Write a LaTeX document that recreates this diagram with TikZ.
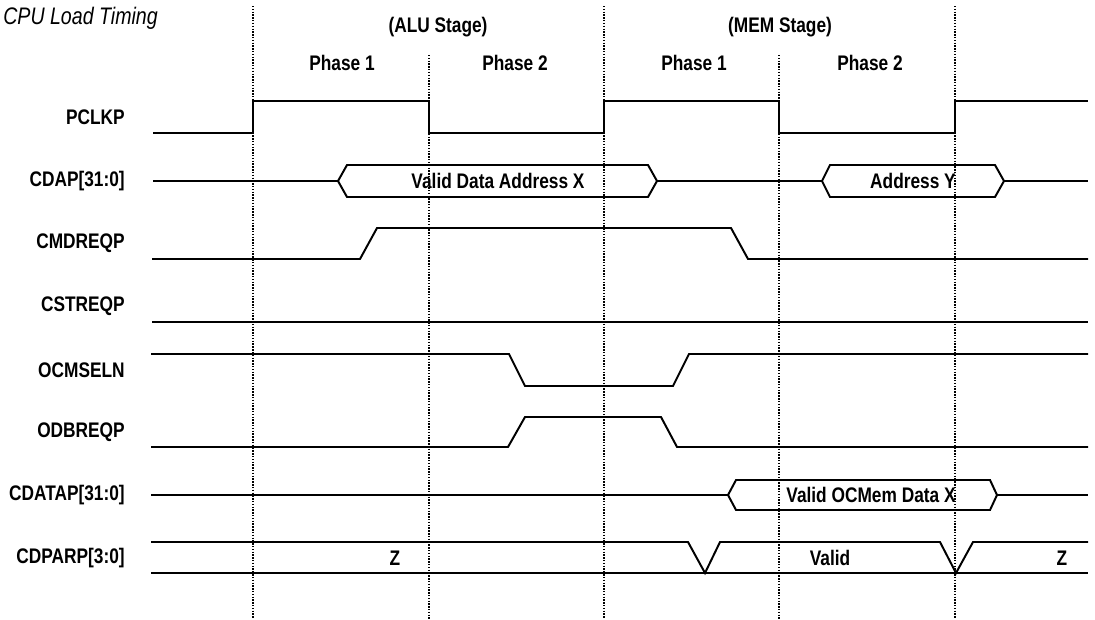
\documentclass[tikz,border=0pt]{standalone}
\usepackage{fontspec}
\setmainfont{Liberation Sans}[FakeStretch=0.82]
\usepackage{tikz}
\usetikzlibrary{positioning}
\tikzstyle{sigline} = [draw, line width=1.4pt, line join=miter]
\tikzstyle{phaseline} = [draw, line width=0.9pt, dash pattern=on 1pt off 1pt]
\tikzstyle{signame} = [anchor=east, inner sep=0pt, font=\fontsize{15}{17}\selectfont\bfseries]
\tikzstyle{headtext} = [inner sep=0pt, font=\fontsize{15}{17}\selectfont\bfseries]
\tikzstyle{titletext} = [anchor=west, inner sep=0pt, font=\fontsize{17}{19}\selectfont\itshape]

\begin{document}
\begin{tikzpicture}[x=0.025cm, y=-0.025cm]
  \useasboundingbox (0,0) rectangle (1095,619);

  % Place nodes
  \node [titletext] (cpuload) at (3,18) {CPU Load Timing};
  \node [headtext] (alu) at (438,27) {(ALU Stage)};
  \node [headtext] (mem) at (780,27) {(MEM Stage)};
  \node [headtext] (ph1a) at (342,63) {Phase 1};
  \node [headtext] (ph2a) at (515,63) {Phase 2};
  \node [headtext] (ph1b) at (694,63) {Phase 1};
  \node [headtext] (ph2b) at (870,63) {Phase 2};

  \node [signame] (pclkp) at (125,117) {PCLKP};
  \node [signame] (cdap) at (125,181) {CDAP[31:0]};
  \node [signame] (cmdreqp) at (125,243) {CMDREQP};
  \node [signame] (cstreqp) at (125,306) {CSTREQP};
  \node [signame] (ocmseln) at (125,370) {OCMSELN};
  \node [signame] (odbreqp) at (125,432) {ODBREQP};
  \node [signame] (cdatap) at (125,495) {CDATAP[31:0]};
  \node [signame] (cdparp) at (125,558) {CDPARP[3:0]};

  % stage and phase boundaries
  \path [phaseline] (253,6) -- (253,619);
  \path [phaseline] (429,55) -- (429,619);
  \path [phaseline] (604,6) -- (604,619);
  \path [phaseline] (779,55) -- (779,619);
  \path [phaseline] (955,6) -- (955,619);

  % PCLKP
  \path [sigline] (153,133) -- (253,133) -- (253,101) -- (429,101) -- (429,133)
    -- (604,133) -- (604,101) -- (779,101) -- (779,133) -- (955,133)
    -- (955,101) -- (1088,101);

  % CDAP[31:0]
  \path [sigline] (153,181) -- (338,181);
  \path [sigline] (338,181) -- (347,165) -- (648,165) -- (657,181) -- (648,197)
    -- (347,197) -- cycle;
  \node [headtext] (addrx) at (498,181) {Valid Data Address X};
  \path [sigline] (657,181) -- (822,181);
  \path [sigline] (822,181) -- (830,165) -- (995,165) -- (1004,181) -- (995,197)
    -- (830,197) -- cycle;
  \node [headtext] (addry) at (913,181) {Address Y};
  \path [sigline] (1004,181) -- (1088,181);

  % CMDREQP
  \path [sigline] (152,259) -- (360,259) -- (377,228) -- (731,228) -- (748,259)
    -- (1088,259);

  % CSTREQP
  \path [sigline] (152,322) -- (1088,322);

  % OCMSELN
  \path [sigline] (151,354) -- (509,354) -- (525,386) -- (673,386) -- (689,354)
    -- (1088,354);

  % ODBREQP
  \path [sigline] (151,447) -- (508,447) -- (525,417) -- (661,417) -- (677,447)
    -- (1088,447);

  % CDATAP[31:0]
  \path [sigline] (151,495) -- (728,495);
  \path [sigline] (728,495) -- (736,480) -- (990,480) -- (997,495) -- (990,510)
    -- (736,510) -- cycle;
  \node [headtext] (datax) at (871,495) {Valid OCMem Data X};
  \path [sigline] (997,495) -- (1088,495);

  % CDPARP[3:0]
  \path [sigline] (151,542) -- (688,542) -- (705,573) -- (720,542) -- (940,542)
    -- (956,573) -- (973,542) -- (1088,542);
  \path [sigline] (151,573) -- (1088,573);
  \node [headtext] (z1) at (395,558) {Z};
  \node [headtext] (valid) at (830,558) {Valid};
  \node [headtext] (z2) at (1062,558) {Z};

\end{tikzpicture}
\end{document}
